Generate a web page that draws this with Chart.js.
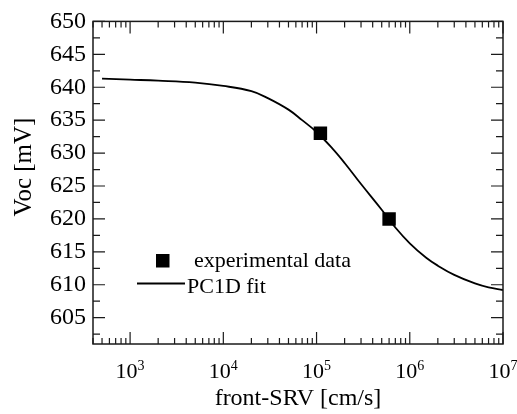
<!DOCTYPE html>
<html>
<head>
<meta charset="utf-8">
<script src="https://cdn.jsdelivr.net/npm/chart.js@4/dist/chart.umd.min.js"></script>
<style>
  html, body { margin: 0; padding: 0; background: #fff; }
  #wrap { width: 517px; height: 414px; position: relative; }
</style>
</head>
<body>
<div id="wrap"><canvas id="vocChart"></canvas></div>
<script>
// PC1D fit curve: Voc vs front surface recombination velocity
const fitSRV = [500, 1000, 2000, 5000, 1e4, 2e4, 3e4, 5e4, 7e4, 1e5, 1.5e5, 2e5, 3e5, 5e5, 7e5, 1e6, 1.5e6, 2e6, 3e6, 5e6, 7e6, 1e7];
const fitVoc = [641.3, 641.15, 641.0, 640.7, 640.2, 639.4, 638.35, 636.6, 635.0, 633.2, 630.6, 628.5, 625.3, 621.4, 618.7, 616.3, 614.1, 612.9, 611.5, 610.2, 609.6, 609.2];

// measured cells
const expSRV = [1.1e5, 6e5];
const expVoc = [633, 620];

// axis ticks
const yTicks = [605, 610, 615, 620, 625, 630, 635, 640, 645, 650];
const xDecades = [3, 4, 5, 6, 7];

const serif = 'Liberation Serif';
const ink = '#1a1a1a';

// frame, inward ticks, decade labels, titles and legend
const framePlugin = {
    id: 'frame',
    afterDraw(chart) {
        const ctx = chart.ctx;
        const area = chart.chartArea;
        const x = chart.scales.x;
        const y = chart.scales.y;
        ctx.save();
        ctx.strokeStyle = ink;
        ctx.lineWidth = 1.5;
        ctx.strokeRect(area.left, area.top, area.right - area.left, area.bottom - area.top);

        ctx.lineWidth = 1.2;
        ctx.beginPath();
        // y ticks, major every 5 mV and minor halfway
        for (let v = y.min; v <= y.max + 0.01; v += 0.5) {
            const r = Math.round(v * 10) / 10;
            let len = 0;
            if (r % 5 === 0) len = 12;
            else if (r % 2.5 === 0) len = 7;
            if (!len) continue;
            const py = y.getPixelForValue(r);
            ctx.moveTo(area.left, py); ctx.lineTo(area.left + len, py);
            ctx.moveTo(area.right, py); ctx.lineTo(area.right - len, py);
        }
        // x ticks on the log scale
        for (let e = 2; e <= 7; e++) {
            for (let m = 1; m <= 9; m++) {
                const v = m * Math.pow(10, e);
                if (v < x.min || v > x.max) continue;
                const px = x.getPixelForValue(v);
                const len = m === 1 ? 12 : 6;
                ctx.moveTo(px, area.bottom); ctx.lineTo(px, area.bottom - len);
                ctx.moveTo(px, area.top); ctx.lineTo(px, area.top + len);
            }
        }
        ctx.stroke();

        // decade labels 10^n
        ctx.fillStyle = '#000';
        ctx.textBaseline = 'alphabetic';
        ctx.textAlign = 'left';
        xDecades.forEach(e => {
            const px = x.getPixelForValue(Math.pow(10, e));
            ctx.font = '22px "' + serif + '"';
            const wBase = ctx.measureText('10').width;
            ctx.font = '14px "' + serif + '"';
            const wExp = ctx.measureText(String(e)).width;
            const start = px - (wBase + wExp) / 2;
            ctx.font = '22px "' + serif + '"';
            ctx.fillText('10', start, 378);
            ctx.font = '14px "' + serif + '"';
            ctx.fillText(String(e), start + wBase, 370);
        });

        // axis titles
        ctx.font = '24px "' + serif + '"';
        ctx.textAlign = 'center';
        ctx.fillText('front-SRV [cm/s]', (area.left + area.right) / 2, 405);
        ctx.save();
        ctx.translate(31, 167);
        ctx.rotate(-Math.PI / 2);
        ctx.font = '25px "' + serif + '"';
        ctx.fillText('Voc [mV]', 0, 0);
        ctx.restore();

        // legend
        ctx.fillStyle = '#000';
        ctx.fillRect(156, 254, 13.5, 13.5);
        ctx.lineWidth = 1.8;
        ctx.strokeStyle = '#000';
        ctx.beginPath();
        ctx.moveTo(137, 283.5); ctx.lineTo(185, 283.5);
        ctx.stroke();
        ctx.font = '22px "' + serif + '"';
        ctx.textAlign = 'left';
        ctx.fillText('experimental data', 194, 267);
        ctx.fillText('PC1D fit', 187, 293);
        ctx.restore();
    }
};

const ctx = document.getElementById('vocChart').getContext('2d');
new Chart(ctx, {
    type: 'scatter',
    data: {
        datasets: [{
            label: 'experimental data',
            data: expSRV.map((s, i) => ({ x: s, y: expVoc[i] })),
            pointStyle: 'rect',
            pointRadius: 9.5,
            pointBackgroundColor: '#000',
            pointBorderColor: '#000',
            pointBorderWidth: 0,
            showLine: false
        }, {
            label: 'PC1D fit',
            data: fitSRV.map((s, i) => ({ x: s, y: fitVoc[i] })),
            showLine: true,
            borderColor: '#000',
            borderWidth: 1.8,
            pointRadius: 0,
            tension: 0.4,
            fill: false
        }]
    },
    options: {
        responsive: true,
        maintainAspectRatio: false,
        animation: false,
        layout: { padding: { top: 13, right: 14, left: 0, bottom: 0 } },
        plugins: {
            legend: { display: false },
            tooltip: { enabled: false }
        },
        scales: {
            x: {
                type: 'logarithmic',
                min: 400,
                max: 1e7,
                grid: { display: false, drawTicks: false },
                border: { display: false },
                ticks: { display: false },
                afterFit: scale => { scale.height = 70; }
            },
            y: {
                min: 601,
                max: 650,
                grid: { display: false, drawTicks: false },
                border: { display: false },
                afterBuildTicks: scale => { scale.ticks = yTicks.map(v => ({ value: v })); },
                ticks: {
                    color: '#000',
                    padding: 7,
                    font: { family: serif, size: 24 }
                },
                afterFit: scale => { scale.width = 93; }
            }
        }
    },
    plugins: [framePlugin]
});
</script>
</body>
</html>
